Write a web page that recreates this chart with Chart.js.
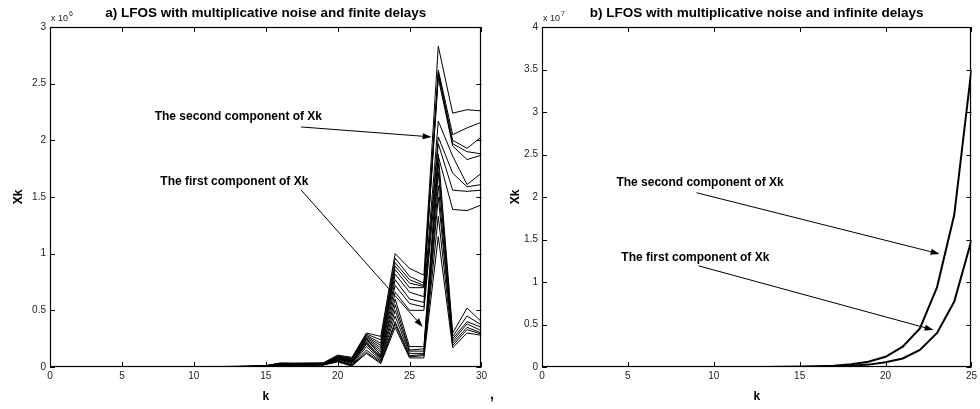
<!DOCTYPE html>
<html><head><meta charset="utf-8">
<script src="https://cdn.jsdelivr.net/npm/chart.js@4.4.1/dist/chart.umd.min.js"></script>
<style>
html,body{margin:0;padding:0;background:#fff;}
#wrap{position:relative;width:980px;height:409px;overflow:hidden;}
.box{position:absolute;top:0;width:490px;height:409px;}
#comma{position:absolute;left:490px;top:386px;font:bold 14px "Liberation Sans",Arial,sans-serif;color:#000;}
</style></head><body>
<div id="wrap">
<div class="box" style="left:0"><canvas id="c1" width="490" height="409"></canvas></div>
<div class="box" style="left:490px"><canvas id="c2" width="490" height="409"></canvas></div>
<div id="comma">,</div>
</div>
<script>
// ---------- DATA ----------
const kFinite = [1,2,3,4,5,6,7,8,9,10,11,12,13,14,15,16,17,18,19,20,21,22,23,24,25,26,27,28,29,30];
const kInfinite = [1,2,3,4,5,6,7,8,9,10,11,12,13,14,15,16,17,18,19,20,21,22,23,24,25];
const xTicksFinite = [0,5,10,15,20,25,30];
const xTicksInfinite = [0,5,10,15,20,25];
const yTicksFinite = [0,0.5,1,1.5,2,2.5,3];
const yTicksInfinite = [0,0.5,1,1.5,2,2.5,3,3.5,4];

// panel a) values in units of 10^6
const finU1 = [0,0.001,0.001,0.001,0.002,0.002,0.002,0.003,0.003,0.004,0.004,0.005,0.006,0.008,0.012,0.035,0.034,0.035,0.036,0.105,0.085,0.30,0.27,1.00,0.87,0.81,2.83,2.24,2.27,2.26];
const finU2 = [0,0.001,0.001,0.001,0.001,0.002,0.002,0.002,0.003,0.003,0.004,0.004,0.005,0.007,0.011,0.033,0.032,0.033,0.034,0.098,0.078,0.29,0.24,0.96,0.80,0.74,2.62,2.05,2.11,2.16];
const finU3 = [0,0.001,0.001,0.001,0.001,0.002,0.002,0.002,0.003,0.003,0.003,0.004,0.005,0.007,0.010,0.031,0.030,0.031,0.032,0.094,0.072,0.28,0.21,0.92,0.77,0.72,2.60,2.00,1.93,2.03];
const finU4 = [0,0,0.001,0.001,0.001,0.001,0.002,0.002,0.002,0.003,0.003,0.004,0.004,0.006,0.010,0.030,0.029,0.030,0.031,0.090,0.066,0.27,0.19,0.89,0.74,0.71,2.58,1.97,1.90,1.88];
const finU5 = [0,0,0.001,0.001,0.001,0.001,0.002,0.002,0.002,0.003,0.003,0.003,0.004,0.006,0.009,0.028,0.028,0.029,0.030,0.086,0.060,0.26,0.17,0.86,0.70,0.70,2.55,1.95,1.83,1.87];
const finU6 = [0,0,0.001,0.001,0.001,0.001,0.001,0.002,0.002,0.002,0.003,0.003,0.004,0.005,0.009,0.027,0.026,0.027,0.028,0.082,0.055,0.25,0.15,0.82,0.66,0.62,2.17,1.86,1.61,1.71];
const finU7 = [0,0,0,0.001,0.001,0.001,0.001,0.002,0.002,0.002,0.002,0.003,0.003,0.005,0.008,0.025,0.025,0.026,0.027,0.078,0.050,0.24,0.13,0.77,0.60,0.57,2.03,1.71,1.59,1.61];
const finU8 = [0,0,0,0.001,0.001,0.001,0.001,0.001,0.002,0.002,0.002,0.003,0.003,0.005,0.008,0.024,0.024,0.025,0.026,0.074,0.045,0.23,0.11,0.72,0.56,0.53,1.97,1.56,1.55,1.56];
const finU9 = [0,0,0,0,0.001,0.001,0.001,0.001,0.002,0.002,0.002,0.002,0.003,0.004,0.007,0.022,0.022,0.023,0.024,0.070,0.040,0.21,0.09,0.66,0.50,0.50,1.86,1.39,1.38,1.43];
const finL1 = [0,0,0,0,0.001,0.001,0.001,0.001,0.001,0.002,0.002,0.002,0.003,0.004,0.007,0.021,0.021,0.022,0.023,0.080,0.050,0.25,0.10,0.60,0.18,0.18,1.88,0.30,0.52,0.40];
const finL2 = [0,0,0,0,0,0.001,0.001,0.001,0.001,0.002,0.002,0.002,0.002,0.004,0.006,0.020,0.020,0.021,0.022,0.072,0.040,0.22,0.08,0.55,0.15,0.16,1.80,0.27,0.45,0.37];
const finL3 = [0,0,0,0,0,0.001,0.001,0.001,0.001,0.001,0.002,0.002,0.002,0.003,0.006,0.019,0.019,0.020,0.021,0.065,0.030,0.20,0.07,0.50,0.14,0.14,1.72,0.25,0.40,0.35];
const finL4 = [0,0,0,0,0,0,0.001,0.001,0.001,0.001,0.001,0.002,0.002,0.003,0.005,0.018,0.018,0.019,0.020,0.060,0.020,0.18,0.06,0.45,0.12,0.12,1.60,0.23,0.38,0.32];
const finL5 = [0,0,0,0,0,0,0.001,0.001,0.001,0.001,0.001,0.001,0.002,0.003,0.005,0.017,0.017,0.018,0.019,0.055,0.015,0.15,0.05,0.40,0.10,0.11,1.50,0.21,0.35,0.30];
const finL6 = [0,0,0,0,0,0,0,0.001,0.001,0.001,0.001,0.001,0.002,0.002,0.004,0.016,0.016,0.017,0.018,0.050,0.010,0.13,0.04,0.38,0.09,0.10,1.33,0.19,0.33,0.29];
const finL7 = [0,0,0,0,0,0,0,0,0.001,0.001,0.001,0.001,0.001,0.002,0.004,0.015,0.015,0.016,0.017,0.045,0.008,0.12,0.03,0.35,0.08,0.08,1.15,0.17,0.30,0.28];

// panel b) values in units of 10^7
const infSecond = [0,0,0,0,0,0,0,0,0,0.0001,0.0003,0.0005,0.001,0.002,0.004,0.008,0.016,0.032,0.062,0.12,0.24,0.455,0.94,1.79,3.5];
const infFirst  = [0,0,0,0,0,0,0,0,0,0.0001,0.0002,0.0003,0.0005,0.0009,0.0018,0.0036,0.007,0.014,0.028,0.055,0.10,0.20,0.40,0.77,1.49];

// ---------- DRAWING ----------
const FONT = '"Liberation Sans", Arial, sans-serif';

const decor = {
  id: 'matlabDecor',
  afterDatasetsDraw(chart, args, opts) {
    const ctx = chart.ctx;
    const xs = chart.scales.x, ys = chart.scales.y;
    const {left, right, top, bottom} = chart.chartArea;
    ctx.save();
    ctx.strokeStyle = '#000';
    ctx.lineWidth = 1;
    ctx.beginPath();
    const TL = 5;
    xs.ticks.forEach(t => {
      const px = Math.round(xs.getPixelForValue(t.value)) + 0.5;
      ctx.moveTo(px, bottom); ctx.lineTo(px, bottom - TL);
      ctx.moveTo(px, top); ctx.lineTo(px, top + TL);
    });
    ys.ticks.forEach(t => {
      const py = Math.round(ys.getPixelForValue(t.value)) + 0.5;
      ctx.moveTo(left, py); ctx.lineTo(left + TL, py);
      ctx.moveTo(right, py); ctx.lineTo(right - TL, py);
    });
    ctx.stroke();
    ctx.lineWidth = 1.2;
    ctx.strokeRect(Math.round(left) + 0.5, Math.round(top) + 0.5, Math.round(right - left) - 1, Math.round(bottom - top) - 1);

    // title
    ctx.fillStyle = '#000';
    ctx.font = 'bold 13.5px ' + FONT;
    ctx.textAlign = 'center';
    ctx.textBaseline = 'middle';
    ctx.fillText(opts.title, (left + right) / 2, top - 14);

    // exponent
    ctx.font = '9px ' + FONT;
    ctx.textAlign = 'left';
    ctx.textBaseline = 'alphabetic';
    ctx.fillStyle = '#222';
    ctx.fillText('x 10', left + 1, top - 6);
    const w = ctx.measureText('x 10').width;
    ctx.font = '7px ' + FONT;
    ctx.fillText(opts.exponent, left + 2 + w, top - 11);

    // annotations
    ctx.fillStyle = '#000';
    ctx.strokeStyle = '#000';
    opts.notes.forEach(n => {
      ctx.font = 'bold 12px ' + FONT;
      ctx.textAlign = 'left';
      ctx.textBaseline = 'middle';
      ctx.fillText(n.text, xs.getPixelForValue(n.tx), ys.getPixelForValue(n.ty));
      const x0 = xs.getPixelForValue(n.ax0), y0 = ys.getPixelForValue(n.ay0);
      const x1 = xs.getPixelForValue(n.ax1), y1 = ys.getPixelForValue(n.ay1);
      const ang = Math.atan2(y1 - y0, x1 - x0);
      const L = 9, H = 3;
      ctx.lineWidth = 1;
      ctx.beginPath();
      ctx.moveTo(x0, y0);
      ctx.lineTo(x1 - L * Math.cos(ang), y1 - L * Math.sin(ang));
      ctx.stroke();
      ctx.beginPath();
      ctx.moveTo(x1, y1);
      ctx.lineTo(x1 - L * Math.cos(ang) + H * Math.sin(ang), y1 - L * Math.sin(ang) - H * Math.cos(ang));
      ctx.lineTo(x1 - L * Math.cos(ang) - H * Math.sin(ang), y1 - L * Math.sin(ang) + H * Math.cos(ang));
      ctx.closePath();
      ctx.fill();
    });
    ctx.restore();
  }
};

function makeChart(id, cfg) {
  return new Chart(document.getElementById(id), {
    type: 'line',
    data: {
      datasets: cfg.series.map(s => ({
        data: cfg.k.map((x, i) => ({x: x, y: s[i]})),
        borderColor: '#000', borderWidth: cfg.lw, pointRadius: 0, tension: 0, fill: false
      }))
    },
    options: {
      responsive: false, animation: false, events: [],
      layout: {padding: {top: 27, right: cfg.padRight, left: 0, bottom: 0}},
      plugins: {
        legend: {display: false}, tooltip: {enabled: false}, title: {display: false},
        matlabDecor: {title: cfg.title, exponent: cfg.exponent, notes: cfg.notes}
      },
      scales: {
        x: {
          type: 'linear', min: cfg.xTicks[0], max: cfg.xTicks[cfg.xTicks.length - 1],
          afterBuildTicks: s => { s.ticks = cfg.xTicks.map(v => ({value: v})); },
          ticks: {padding: 3, color: '#222', font: {family: FONT, size: 10}, maxRotation: 0, autoSkip: false,
                  callback: v => String(v)},
          grid: {display: false, drawTicks: false}, border: {display: false},
          title: {display: true, text: 'k', color: '#000', font: {family: FONT, size: 12, weight: 'bold'}, padding: {top: 0, bottom: 5}},
          afterFit: s => { s.height = 42; }
        },
        y: {
          type: 'linear', min: cfg.yTicks[0], max: cfg.yTicks[cfg.yTicks.length - 1],
          afterBuildTicks: s => { s.ticks = cfg.yTicks.map(v => ({value: v})); },
          ticks: {padding: 4, color: '#222', font: {family: FONT, size: 10}, autoSkip: false,
                  callback: v => String(v)},
          grid: {display: false, drawTicks: false}, border: {display: false},
          title: {display: true, text: 'Xk', color: '#000', font: {family: FONT, size: 12, weight: 'bold'}, padding: {top: cfg.yTitlePad, bottom: 0}},
          afterFit: s => { s.width = cfg.yWidth; }
        }
      }
    },
    plugins: [decor]
  });
}

makeChart('c1', {
  k: kFinite,
  series: [finU1, finU2, finU3, finU4, finU5, finU6, finU7, finU8, finU9, finL1, finL2, finL3, finL4, finL5, finL6, finL7],
  lw: 1, xTicks: xTicksFinite, yTicks: yTicksFinite,
  yWidth: 50, padRight: 7, yTitlePad: 11,
  title: 'a) LFOS with multiplicative noise and finite delays', exponent: '6',
  notes: [
    {text: 'The second component of Xk', tx: 7.28, ty: 2.21, ax0: 17.46, ay0: 2.118, ax1: 26.54, ay1: 2.03},
    {text: 'The first component of Xk', tx: 7.67, ty: 1.635, ax0: 17.46, ay0: 1.562, ax1: 25.92, ay1: 0.353}
  ]
});

makeChart('c2', {
  k: kInfinite,
  series: [infSecond, infFirst],
  lw: 2, xTicks: xTicksInfinite, yTicks: yTicksInfinite,
  yWidth: 52, padRight: 5, yTitlePad: 18,
  title: 'b) LFOS with multiplicative noise and infinite delays', exponent: '7',
  notes: [
    {text: 'The second component of Xk', tx: 4.33, ty: 2.165, ax0: 9.0, ay0: 2.05, ax1: 23.15, ay1: 1.33},
    {text: 'The first component of Xk', tx: 4.62, ty: 1.29, ax0: 9.12, ay0: 1.19, ax1: 22.8, ay1: 0.435}
  ]
});
</script>
</body></html>
